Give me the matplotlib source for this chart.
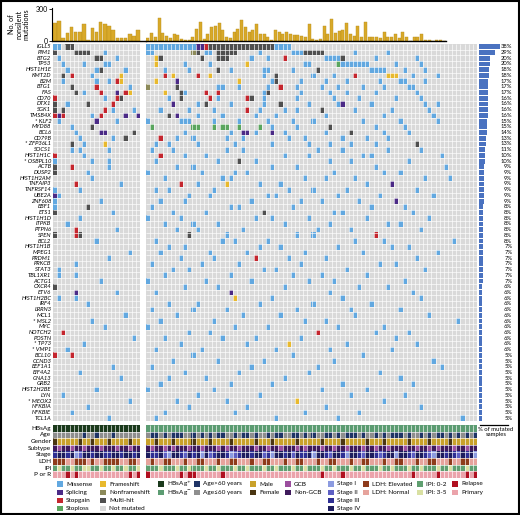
import numpy as np
import matplotlib.pyplot as plt
from matplotlib.colors import to_rgb
from matplotlib.patches import Rectangle
from matplotlib.transforms import blended_transform_factory

plt.rcParams['font.family'] = ['Lato', 'DejaVu Sans']

W, H = 520, 515

# ---------------- data ----------------
genes = ['IGLL5', 'PIM1', 'BTG2', 'TP53', 'HIST1H1E', 'KMT2D', 'B2M', 'BTG1', 'FAS', 'CD70',
         'DTX1', 'SGK1', 'TMSB4X', 'KLF2', 'MYD88', 'BCL6', 'CD79B', 'ZFP36L1', 'SOCS1', 'HIST1H1C',
         'OSBPL10', 'ACTB', 'DUSP2', 'HIST1H2AM', 'TNFAIP3', 'TNFRSF14', 'UBE2A', 'ZNF608', 'EBF1', 'ETS1',
         'HIST1H1D', 'ITPKB', 'PTPN6', 'SPEN', 'BCL2', 'HIST1H1B', 'MPEG1', 'PRDM1', 'PRKCB', 'STAT3',
         'TBL1XR1', 'ACTG1', 'CXCR4', 'ETV6', 'HIST1H2BC', 'IRF4', 'LRRN3', 'MCL1', 'MSL2', 'MYC',
         'NOTCH2', 'POSTN', 'TP73', 'VMP1', 'BCL10', 'CCND3', 'EEF1A1', 'EIF4A2', 'GNA13', 'GRB2',
         'HIST2H2BE', 'LYN', 'MEOX2', 'NFKBIA', 'NFKBIE', 'TCL1A']
starred = ['KLF2', 'ZFP36L1', 'OSBPL10', 'MSL2', 'TP73', 'VMP1', 'MEOX2']
pct = [38, 29, 20, 20, 18, 18, 17, 17, 17, 16, 16, 16, 16, 15, 15, 14, 13, 13, 11, 10,
       10, 9, 9, 9, 9, 9, 9, 9, 8, 8, 8, 8, 8, 8, 8, 7, 7, 7, 7, 7,
       7, 7, 6, 6, 6, 6, 6, 6, 6, 6, 6, 6, 6, 6, 5, 5, 5, 5, 5, 5,
       5, 5, 5, 5, 5, 5]

# nonsilent mutations per sample (HBsAg+ group, then HBsAg- group)
burden_left = [165, 185, 25, 75, 135, 85, 85, 160, 5, 125, 80, 175, 160, 145, 105, 30, 25, 25, 65, 45, 105]
burden_right = [27, 73, 40, 217, 73, 50, 27, 67, 57, 17, 10, 7, 40, 117, 183, 17, 67, 133, 140, 167,
                100, 33, 27, 83, 117, 200, 133, 83, 107, 160, 67, 67, 40, 7, 107, 83, 67, 83, 67, 60,
                60, 50, 40, 160, 17, 7, 17, 140, 67, 207, 73, 90, 107, 173, 67, 50, 140, 40, 183, 33,
                33, 40, 27, 83, 40, 33, 67, 27, 83, 40, 0, 40, 40, 67, 10, 5, 0, 8, 5, 3]

# mutated samples per gene: type letter + sample index
# m missense, s splicing, x stopgain, l stoploss, f frameshift, n nonframeshift, h multi-hit
mut_left = [
    'm0 m1 h3 h4', 'h0 h5 h6 h7 h8 m12', 'm1 h10 h11 m15', 'm2 m7 m12 m13', 'm3 m10 h11 m17',
    'x4 f16 h2 m9', 'x15 f16 m2 m10 m13', 'h4 x10 m18', 'x11 s15 x17 f18 h5 m7', 'x0 x15 m12 h16',
    'h0 h8 x14 m3', 'h0 h2 x12 m14 m19', 'x0 s1 x2 x11 s17 s20 m9', 'm1 s10 m15', 'h9 m4',
    's11 s12 h19 m5', 'h17 m6 m14', 'f12 h4 m7', 'm4 m6 m13', 'x0 m7',
    'm0 m9 m13', 'h0 x4 m13', 'h0 m8', 'm9', 'x5 m16',
    'm0 m6', 's0 m1', 'm0 m11', 'm0 h8', 'h0 m14',
    'm6', 'm3', 'x5 m15', 'h0 x5 h6', 'm10',
    '', 'm18', 'm13', 'm5', 'm1',
    'm1 m5', 'm11', 'h0', 's5 m15', 'm1 m5',
    'm8', '', 'm17', 'm9', 'm12',
    'x2', 'm19', 'm7', 'm3', 'x0 x4',
    '', 'm14', 'm6', 'm16', '',
    'm10', 'm2', 'm18', 'm8', 'm4',
    'm13',
]
mut_right = [
    'm0 m1 m2 m3 m4 m5 m6 m7 m8 m9 m10 m11 s12 s13 x14 h15 h16 h17 h18 h19 h20 h21 h22 h23 h24 '
    'h25 h26 h27 h28 h29 h30 m31 m32 m33 m34',
    'm0 m1 n11 h12 m14 m15 h17 h18 h19 h20 h21 m27 m35 m36 m37 h38 h39 h40 h41 h42 m50 m58',
    'f2 h3 h13 h17 h18 h19 m25 m29 x33 m43 m44 m45 m46 h47 m55 m65',
    'f2 m9 m15 f24 m38 m39 l46 m47 m48 m49 m50 m51 m52 m53 m60 m66',
    'm4 m10 h17 m20 m28 m29 m35 h41 m54 m55 m56 m57 m62 m67',
    'x4 f6 x12 f15 m28 h31 m40 m45 x50 f58 f59 f60 m64 m70',
    'f2 s7 f22 m30 h31 m37 m43 m48 m56 m61 m62 m67',
    'n0 h7 m17 m18 m22 m29 x32 m36 m42 m46 m52 m57 m63 m64',
    'f4 h8 m9 x14 x17 m28 h29 m37 m44 m48 m55 m65',
    'm5 h8 x15 m17 x24 h25 m28 m36 m45 m51 m60 m66',
    's6 m12 h14 m20 m28 h32 m39 m46 s47 m54 m67 m70',
    'm3 m10 m16 x24 m27 m33 m36 h42 m50 m59 m68',
    'h5 s7 m12 m18 m26 m31 m43 m57 m69',
    'm0 m8 m9 m10 m16 m22 m29 m35 m40 m52 m61 m70',
    'l1 l11 l12 l16 l18 l19 l22 l27 m30 m36 h44 m55 m62',
    'm9 m20 s23 s24 m26 s30 m33 m43 h49 m57 m63',
    'x3 m7 m11 m19 m23 m34 m38 m47 m53 m58',
    'm2 m5 m12 m21 m30 m39 m44 m49 m55 h65',
    'm1 m6 m19 m23 m41 m47 m58 m66',
    'x3 m9 m14 m33 m39 m52 m54 m71',
    'm2 m17 h22 m26 m44 m49 m63',
    'm7 m11 m30 m36 m55 m72',
    'm0 m13 m21 m24 m45 m57 m61',
    'm4 m18 m20 m38 m43 m50 m67 m73',
    'x8 m12 f19 m27 m32 m53 s59',
    'm2 m5 m16 m34 m40 m48 m65',
    'm10 m15 m29 m31 m46 m56 m69',
    'm3 m9 m25 m37 m42 m51 s60',
    'm1 m20 m22 m35 m54 m62',
    'm6 m14 h28 m45 m47 m64',
    'm0 m8 m26 m30 m39 m53 m68',
    'm4 m11 m17 m33 m44 m58 m61',
    'm7 m12 m23 m41 m49 m66',
    'h10 m19 m36 m40 x55',
    'm2 m18 m21 m29 m50 m57 m74',
    'm5 m9 m27 m32 m46 m59 m63',
    'm3 m15 m24 m38 m52 m70',
    'm8 m16 x26 m34 m43 m65',
    'm1 m13 m22 m37 m56 m60',
    'm6 m10 m28 m31 m48 m67',
    'm4 m20 m35 m42 m53',
    'm0 m14 m25 m39 m45 m62',
    'm9 m17 m33 m51 m58',
    'm2 s20 m44 m64',
    'f21 m30 m47 m66',
    'm5 m12 m27 m40 m54',
    'm1 m11 m19 m36 m49 m61',
    'm7 m23 m32 m50 m68',
    'm3 m16 m38 m43 m75',
    'm0 m21 m29 m46 m57',
    'm10 m15 x41 m55 m63',
    'm4 m18 m26 m37 m60',
    'm8 m24 f34 m48 m65',
    'm2 m13 m31 m44 m59',
    'm11 m35 m52',
    'm6 m17 m28 m45 m69',
    'm1 m25 m41 m71',
    'm9 m22 m39 m56',
    'm5 m14 m33 m61',
    'm3 m20 m30 m47 m64',
    'm0 m16 m42 m53',
    'm12 m27 m49 m62',
    'm7 m19 f36 m57',
    'm10 m24 m43 m66',
    'm4 m21 m38 m51',
    'm2 m31 m46 m76',
]

track_names = ['HBsAg', 'Age', 'Gender', 'Subtype', 'Stage', 'LDH', 'IPI', 'P or R']
# HBsAg P/N ; Age o(>60)/y(<=60) ; Gender M/F ; Subtype G/N ; Stage 1-4 ; LDH E/N ; IPI L(0-2)/H(3-5) ; P/R
tracks_left = [
    'PPPPPPPPPPPPPPPPPPPPP',
    'yyyyyyyoyyoyyyoyyyyyy',
    'FMMMMMFMMFMMMFMMMMFMM',
    'NGNNGNNGNNNGNNNGNNGNN',
    '344341244344334434434',
    'EEENNEEENENNEEEENNEEN',
    'LHLLHLLHHLLHLLHLLHLLH',
    'PPPRPRPPPPPPPPPPPPRPR',
]
tracks_right = [
    'NNNNNNNNNNNNNNNNNNNNNNNNNNNNNNNNNNNNNNNNNNNNNNNNNNNNNNNNNNNNNNNNNNNNNNNNNNNNNNNN',
    'yooyoyoooyyoyoyoyooyyoyooyoyyoyooyyooyoyoyyooyoyoooyoyyoyoyoooyoyyoyoyooyoyoyoyo',
    'MMFMMMFMMMMFMMMFMMMMFMMMMMFMMMFMMMMMFMMMMMFMMMMFMMMMMFMMMFMMMMMFMMMMFMMMMFMMMMMM',
    'NGNNGNGNNNGNNGNNNGNGNNGNNNGNNGNNGNNNGNGNNNGNNGNNGNNNGNNGNNGNNNGNNGNNGNGNNNGNNGNN',
    '43342144324341423443123443442314434243341443244314432443234414432443214434324341',
    'NENNEENNNENNEENNNENNEENNNENNEENNNENNEENNNENNEENNNENNEENNNENNEENNNENNEENNNENNEENN',
    'LLLHLLLHLLHLLLHLLHLLLHLLHLLLHLLHLLLHLLHLLLHLLHLLLHLLHLLLHLLHLLLHLLHLLLHLLHLLLHLL',
    'RPPPPPPPRPRRPPPPPPRPPPPPPPPPPPPPPPPPPPPPPPRPPPPRPPPPPPPPPPPPPPPPRPPPPPRPPPPPPRPR',
]

# ---------------- colours ----------------
mut_colors = {'.': '#d9d9d9', 'm': '#62a8e0', 's': '#4b2a86', 'x': '#c4262e', 'l': '#5aa55e',
              'f': '#e8b92e', 'n': '#8c8a5a', 'h': '#4f4f4f'}
track_colors = [
    {'P': '#1b3a1c', 'N': '#5c9c72'},
    {'o': '#1f3466', 'y': '#8e8e8e'},
    {'M': '#c9a12b', 'F': '#4a3512'},
    {'G': '#9b4e9e', 'N': '#3f1a5c'},
    {'1': '#8c9be0', '2': '#5d5fc4', '3': '#2e2f94', '4': '#1d1d5e'},
    {'E': '#8e3b1b', 'N': '#e6a39c'},
    {'L': '#5f9f70', 'H': '#d9e0a2'},
    {'R': '#b01020', 'P': '#eba3ab'},
]


def box(x0, y0, x1, y1):
    return [x0 / W, 1 - y1 / H, (x1 - x0) / W, (y1 - y0) / H]


def mut_image(rows, n):
    img = np.zeros((len(rows), n, 3))
    img[:, :] = to_rgb(mut_colors['.'])
    for i, r in enumerate(rows):
        for tok in r.split():
            img[i, int(tok[1:])] = to_rgb(mut_colors[tok[0]])
    return img


def track_image(rows, n):
    img = np.zeros((len(rows), n, 3))
    for i, r in enumerate(rows):
        for j, c in enumerate(r[:n]):
            img[i, j] = to_rgb(track_colors[i][c])
    return img


def draw_cells(ax, img):
    nr, nc = img.shape[:2]
    ax.imshow(img, aspect='auto', interpolation='nearest', extent=(0, nc, nr, 0))
    ax.vlines(np.arange(1, nc), 0, nr, color='white', linewidth=0.45)
    ax.hlines(np.arange(1, nr), 0, nc, color='white', linewidth=0.45)
    ax.set_xlim(0, nc)
    ax.set_ylim(nr, 0)
    ax.axis('off')


fig = plt.figure(figsize=(W / 100, H / 100), dpi=100)
n_genes = len(genes)
groups = [(mut_left, tracks_left, len(burden_left), 53, 140),
          (mut_right, tracks_right, len(burden_right), 146, 477)]

for gi, (rows, trk, n, x0, x1) in enumerate(groups):
    ax = fig.add_axes(box(x0, 44, x1, 421))
    draw_cells(ax, mut_image(rows, n))
    axa = fig.add_axes(box(x0, 425, x1, 478))
    draw_cells(axa, track_image(trk, n))
    if gi == 0:
        tr = blended_transform_factory(ax.transAxes, ax.transData)
        for i, g in enumerate(genes):
            lab = ('* ' + g) if g in starred else g
            ax.text(-0.02, i + 0.5, lab, transform=tr, ha='right', va='center',
                    fontsize=4.2, style='italic')
        tr = blended_transform_factory(axa.transAxes, axa.transData)
        for i, t in enumerate(track_names):
            axa.text(-0.02, i + 0.5, t, transform=tr, ha='right', va='center', fontsize=4.6)

# top bar chart of mutation burden
axb1 = fig.add_axes(box(52, 8, 146, 41))
axb1.bar(np.arange(len(burden_left)) + 0.5, burden_left, width=0.85, color='#d8a92a',
         edgecolor='#b98d1a', linewidth=0.3)
axb1.set_xlim(-0.2, len(burden_left) + 1.4)
axb2 = fig.add_axes(box(146, 8, 446, 41))
axb2.bar(np.arange(len(burden_right)) + 0.5, burden_right, width=0.85, color='#d8a92a',
         edgecolor='#b98d1a', linewidth=0.3)
axb2.set_xlim(0, len(burden_right))
for a in (axb1, axb2):
    a.set_ylim(0, 310)
    for s in ('top', 'right'):
        a.spines[s].set_visible(False)
    a.spines['bottom'].set_linewidth(1.0)
    a.set_xticks([])
axb1.set_yticks([0, 300])
axb1.tick_params(axis='y', labelsize=5, length=2, width=0.6, pad=1)
axb1.spines['left'].set_linewidth(0.8)
axb2.spines['left'].set_visible(False)
axb2.set_yticks([])
fig.text(19 / W, 1 - 24 / H, 'No. of\nnonsilent\nmutations', rotation=90, ha='center', va='center',
         fontsize=5.2, linespacing=1.0)

# right bar chart: % of mutated samples
axp = fig.add_axes(box(479, 44, 508, 421))
axp.barh(np.arange(n_genes) + 0.5, pct, height=0.85, color='#4a72c0')
axp.set_ylim(n_genes, 0)
axp.set_xlim(0, 52)
axp.axis('off')
tr = blended_transform_factory(axp.transAxes, axp.transData)
for i, p in enumerate(pct):
    axp.text(1.15, i + 0.5, f'{p}%', transform=tr, ha='right', va='center', fontsize=4.2)
fig.add_artist(plt.Line2D([480 / W, 508 / W], [1 - 425 / H, 1 - 425 / H], color='black', linewidth=0.9))
fig.text(496 / W, 1 - 432 / H, '% of mutated\nsamples', ha='center', va='center', fontsize=4.3,
         linespacing=1.1)

# legend
axl = fig.add_axes([0, 0, 1, 1])
axl.set_xlim(0, W)
axl.set_ylim(H, 0)
axl.axis('off')
leg_items = [
    (60, 0, 'Missense', mut_colors['m']), (60, 1, 'Splicing', mut_colors['s']),
    (60, 2, 'Stopgain', mut_colors['x']), (60, 3, 'Stoploss', mut_colors['l']),
    (103, 0, 'Frameshift', mut_colors['f']), (103, 1, 'Nonframeshift', mut_colors['n']),
    (103, 2, 'Multi-hit', mut_colors['h']), (103, 3, 'Not mutated', mut_colors['.']),
    (161, 0, 'HBsAg$^{+}$', '#1b3a1c'), (161, 1, 'HBsAg$^{-}$', '#5c9c72'),
    (197, 0, 'Age>60 years', '#1f3466'), (197, 1, 'Age\u226460 years', '#8e8e8e'),
    (253, 0, 'Male', '#c9a12b'), (253, 1, 'Female', '#4a3512'),
    (288, 0, 'GCB', '#9b4e9e'), (288, 1, 'Non-GCB', '#3f1a5c'),
    (331, 0, 'Stage I', '#8c9be0'), (331, 1, 'Stage II', '#5d5fc4'), (331, 2, 'Stage III', '#2e2f94'),
    (331, 3, 'Stage IV', '#1d1d5e'),
    (366, 0, 'LDH: Elevated', '#8e3b1b'), (366, 1, 'LDH: Normal', '#e6a39c'),
    (420, 0, 'IPI: 0-2', '#5f9f70'), (420, 1, 'IPI: 3-5', '#d9e0a2'),
    (455, 0, 'Relapse', '#b01020'), (455, 1, 'Primary', '#eba3ab'),
]
for x, r, lab, c in leg_items:
    y = 484 + r * 8.2
    axl.add_patch(Rectangle((x - 2.7, y - 2.7), 5.4, 5.4, facecolor=c, edgecolor='none'))
    axl.text(x + 6, y, lab, ha='left', va='center', fontsize=4.6)

fig.add_artist(Rectangle((0.002, 0.002), 0.996, 0.996, transform=fig.transFigure, fill=False,
                         edgecolor='black', linewidth=1.5))

fig.savefig('out.png', dpi=100)
